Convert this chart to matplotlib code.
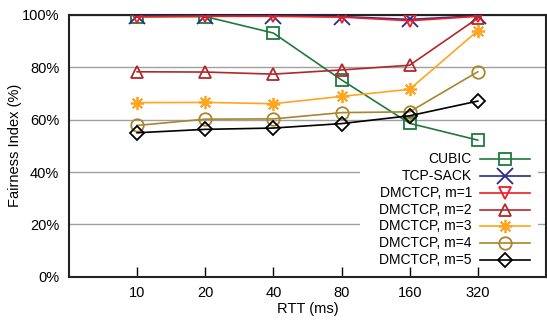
import matplotlib
matplotlib.use("Agg")
import matplotlib.pyplot as plt
from matplotlib.lines import Line2D
from matplotlib.patches import Rectangle

plt.rcParams["font.family"] = ["Liberation Sans", "DejaVu Sans"]

rtt = ["10", "20", "40", "80", "160", "320"]
cubic = [99.4, 99.4, 93.1, 75.2, 58.6, 52.2]
tcp_sack = [99.5, 99.6, 99.6, 99.4, 98.3, 99.7]
dmctcp_m1 = [99.3, 99.5, 99.5, 99.2, 97.8, 99.5]
dmctcp_m2 = [78.3, 78.2, 77.4, 79.0, 80.8, 98.8]
dmctcp_m3 = [66.5, 66.6, 66.1, 68.9, 71.6, 94.0]
dmctcp_m4 = [57.8, 60.2, 60.3, 62.7, 63.0, 78.3]
dmctcp_m5 = [55.0, 56.3, 56.8, 58.5, 61.5, 67.1]
yticks = [0, 20, 40, 60, 80, 100]

series = [
    ("CUBIC", cubic, "#1f7a3b", "s", 8.5),
    ("TCP-SACK", tcp_sack, "#2a2a8c", "x", 11),
    ("DMCTCP, m=1", dmctcp_m1, "#ee1d24", "v", 9),
    ("DMCTCP, m=2", dmctcp_m2, "#b0282c", "^", 9),
    ("DMCTCP, m=3", dmctcp_m3, "#ffa520", (8, 2, 0), 9.5),
    ("DMCTCP, m=4", dmctcp_m4, "#a8862e", "o", 9),
    ("DMCTCP, m=5", dmctcp_m5, "#000000", "D", 7.5),
]

fig = plt.figure(figsize=(5.47, 3.23), dpi=100)
ax = fig.add_axes([0.1261, 0.1433, 0.8719, 0.8103])

x = list(range(len(rtt)))
for i, (name, vals, color, marker, ms) in enumerate(series):
    ax.plot(x, vals, color=color, lw=1.2, marker=marker, ms=ms,
            mfc="none", mec=color, mew=1.3, zorder=3 + i)

ax.set_xlim(-1, 6)
ax.set_ylim(0, 100)
ax.set_xticks(x)
ax.set_xticklabels(rtt)
ax.set_yticks(yticks)
ax.set_yticklabels([f"{v}%" for v in yticks])
ax.tick_params(axis="x", direction="in", length=7, width=1, pad=7, labelsize=10.5)
ax.tick_params(axis="y", direction="in", length=0, pad=7, labelsize=10.5)
ax.grid(axis="y", color="#a0a0a0", lw=1)
for sp in ax.spines.values():
    sp.set_linewidth(1.5)
    sp.set_color("#222222")

# key: white background, labels right-aligned, sample line after the label
ax.add_patch(Rectangle((0.61, 0.04), 0.373, 0.44, transform=ax.transAxes,
                       facecolor="white", edgecolor="none", zorder=2))
key_top, key_step = 0.449, 0.0641
for i, (name, vals, color, marker, ms) in enumerate(series):
    yk = key_top - i * key_step
    ax.add_line(Line2D([0.862, 0.967], [yk, yk], transform=ax.transAxes,
                       color=color, lw=1.2, zorder=20))
    ax.add_line(Line2D([0.914], [yk], transform=ax.transAxes, marker=marker,
                       ms=ms, mfc="none", mec=color, mew=1.3, zorder=21))
    ax.text(0.845, yk, name, transform=ax.transAxes, ha="right", va="center",
            fontsize=10, zorder=21)

ax.set_xlabel("RTT (ms)", fontsize=10.5)
ax.set_ylabel("Fairness Index (%)", fontsize=10.5)
ax.xaxis.set_label_coords(0.5, -0.095)
ax.yaxis.set_label_coords(-0.0985, 0.5)

fig.savefig("out.png", dpi=100)
